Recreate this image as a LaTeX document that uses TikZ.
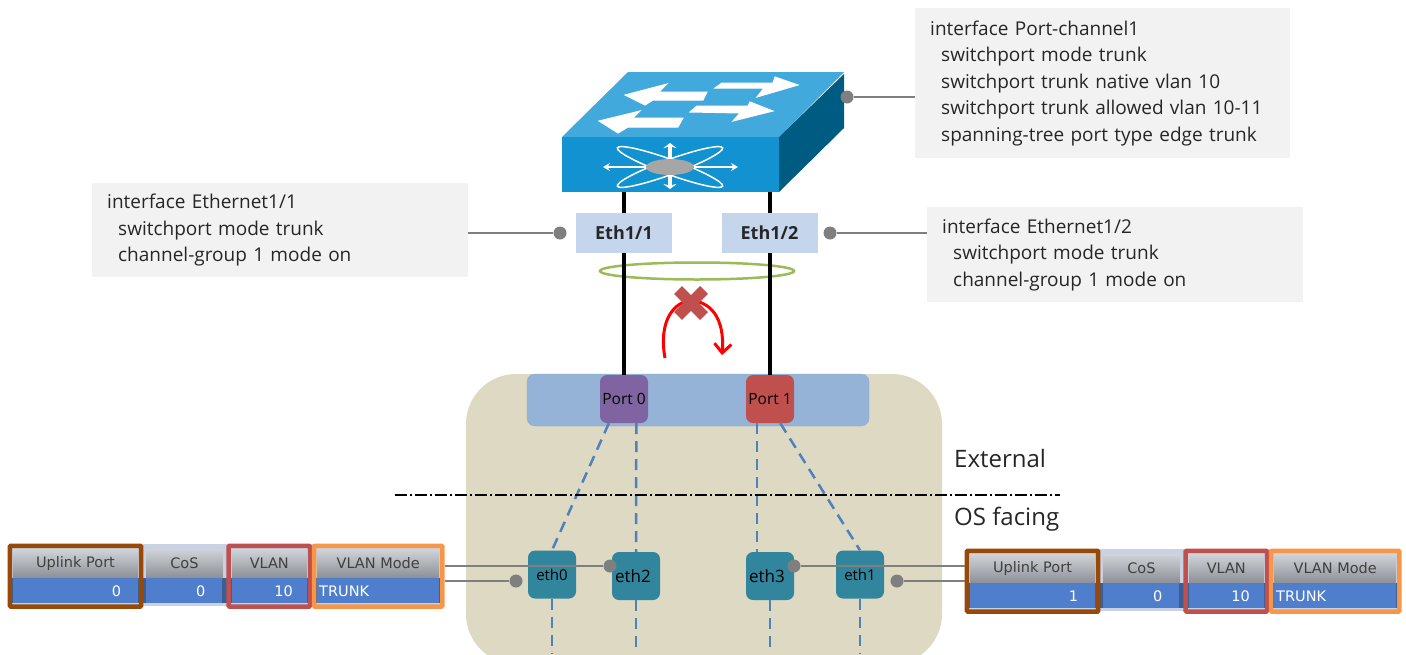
\documentclass[tikz,border=0pt]{standalone}
\usepackage{fontspec}
\setmainfont{Open Sans}
\newfontfamily\tabfont{DejaVu Sans}
\usepackage{xcolor}
\usetikzlibrary{positioning}
\usetikzlibrary{fit}
\usetikzlibrary{shapes}
\usetikzlibrary{arrows.meta}
\definecolor{switchtop}{HTML}{41A9DC}
\definecolor{switchfront}{HTML}{1292D0}
\definecolor{switchside}{HTML}{005B82}
\definecolor{panel}{HTML}{DDD9C3}
\definecolor{band}{HTML}{95B3D7}
\definecolor{bandline}{HTML}{84ABDC}
\definecolor{teal}{HTML}{31859C}
\definecolor{purpleport}{HTML}{8064A2}
\definecolor{ringgreen}{HTML}{9BBB59}
\definecolor{ethblue}{HTML}{C5D5EC}
\definecolor{vblue}{HTML}{4F81BD}
\definecolor{rowblue}{HTML}{4F7FCC}
\definecolor{rowline}{HTML}{3A5F95}
\definecolor{stripblue}{HTML}{C8D2E2}
\definecolor{headtop}{HTML}{D0D3D8}
\definecolor{headbot}{HTML}{8C9096}
\definecolor{vlanred}{HTML}{C0504D}
\definecolor{uplinkbrown}{HTML}{984807}
\definecolor{modeorange}{HTML}{F79646}
\definecolor{wire}{HTML}{7F7F7F}
\tikzstyle{cfg} = [rectangle,fill=black!5,anchor=north west,align=left,text=black!85,font=\fontsize{19}{26.5}\selectfont]
\tikzstyle{ethlabel} = [rectangle,fill=ethblue,minimum width=96pt,minimum height=40pt,inner sep=0pt,font=\fontsize{18}{20}\selectfont\bfseries,text=black!85]
\tikzstyle{dot} = [circle,fill=wire,minimum size=13pt,inner sep=0pt]
\tikzstyle{port} = [rectangle,rounded corners=7pt,minimum size=48pt,inner sep=0pt,font=\fontsize{15.5}{18}\selectfont]
\tikzstyle{eth} = [rectangle,rounded corners=7pt,fill=teal,minimum size=48pt,inner sep=0pt,font=\fontsize{15}{18}\selectfont]
\tikzstyle{head} = [rectangle,top color=headtop,bottom color=headbot,minimum height=29pt,inner sep=0pt,font=\tabfont\fontsize{14.5}{16}\selectfont,text=black!75]
\tikzstyle{val} = [rectangle,fill=rowblue,minimum height=25pt,inner sep=0pt,font=\tabfont\fontsize{14.5}{16}\selectfont,text=white]
\tikzstyle{frame} = [rectangle,draw,line width=4.5pt,inner sep=3pt,rounded corners=1pt]
\tikzset{link/.style={wire,line width=1.5pt}}
\tikzset{vport/.style={vblue,line width=2.5pt,dash pattern=on 11pt off 7pt}}
\tikzset{flow/.style={fill=white,draw=white,line width=1pt}}
\begin{document}
\begin{tikzpicture}[x=1pt,y=-1pt]
  \useasboundingbox (0,0) rectangle (1406,654);

  % server panel, cut off at the bottom
  \begin{scope}
    \clip (0,0) rectangle (1406,654);
    \node [rectangle,fill=panel,rounded corners=50pt,minimum width=476pt,minimum height=290pt,inner sep=0pt] (panel) at (704,519) {};
  \end{scope}
  \node [rectangle,fill=band,draw=bandline,rounded corners=8pt,minimum width=342pt,minimum height=52pt,inner sep=0pt] (band) at (698,400) {};
  \node [port,fill=purpleport] (port0) at (624,399) {Port 0};
  \node [port,fill=vlanred] (port1) at (770,399) {Port 1};

  % switch
  \fill [switchtop] (562,137) -- (628,72) -- (844,72) -- (779,137) -- cycle;
  \fill [switchside] (779,137) -- (844,74) -- (844,128) -- (779,192) -- cycle;
  \node [rectangle,fill=switchfront,minimum width=217pt,minimum height=55pt,inner sep=0pt] (front) at (670.5,164.5) {};
  \path [flow] (625,95) -- (667,84) -- (659,92) -- (707,92) -- (703,100) -- (653,100) -- (645,105) -- cycle;
  \path [flow] (715,88) -- (722,83) -- (773,83) -- (775,77) -- (798,85) -- (757,97) -- (764,88) -- cycle;
  \path [flow] (599,121) -- (640,111) -- (633,118) -- (683,118) -- (678,127) -- (628,127) -- (618,133) -- cycle;
  \path [flow] (690,112) -- (697,106) -- (748,106) -- (750,102) -- (773,111) -- (733,121) -- (740,113) -- cycle;
  \node [ellipse,draw=white,line width=1.5pt,minimum width=112pt,minimum height=15pt,inner sep=0pt,rotate=20] (orbit1) at (670,167) {};
  \node [ellipse,draw=white,line width=1.5pt,minimum width=112pt,minimum height=15pt,inner sep=0pt,rotate=-20] (orbit2) at (670,167) {};
  \node [ellipse,fill=black!35,minimum width=48pt,minimum height=16pt,inner sep=0pt] (hub) at (670,167) {};
  \coordinate (hubl) at (603,167);
  \coordinate (hubr) at (738,167);
  \coordinate (hubu) at (670,143);
  \coordinate (hubd) at (670,189);
  \draw [-{Stealth[length=7pt,width=8pt]},white,line width=1.2pt] (hub) -- (hubl);
  \draw [-{Stealth[length=7pt,width=8pt]},white,line width=1.2pt] (hub) -- (hubr);
  \draw [-{Stealth[length=5pt,width=13pt]},white,line width=4pt] (hub) -- (hubu);
  \draw [-{Stealth[length=5pt,width=13pt]},white,line width=4pt] (hub) -- (hubd);

  % bundle
  \node [ellipse,draw=ringgreen,line width=2.5pt,minimum width=194pt,minimum height=17pt,inner sep=0pt] (ring) at (697,271) {};
  \draw [black,line width=4pt] (port0.north |- front.south) -- (port0.north);
  \draw [black,line width=4pt] (port1.north |- front.south) -- (port1.north);
  \node [ethlabel] (eth11) at (624,233) {Eth1/1};
  \node [ethlabel] (eth12) at (769.5,233) {Eth1/2};

  % failover arrow
  \coordinate (arcfrom) at (665,358);
  \coordinate (arcto) at (722,355);
  \draw [-{Straight Barb[length=9pt,width=17pt]},red,line width=3pt] (arcfrom) .. controls (658,320) and (675,301) .. (691,301) .. controls (710,301) and (725,318) .. (arcto);
  \node [cross out,draw=vlanred,line width=11pt,minimum size=15pt,inner sep=0pt] (blocked) at (691,303) {};

  % vnics
  \node [eth] (eth0) at (552,574.5) {eth0};
  \node [eth,font=\fontsize{17}{20}\selectfont,text depth=0pt] (eth2) at (636,576) {\hspace*{-6pt}eth2};
  \node [eth,font=\fontsize{17}{20}\selectfont,text depth=0pt] (eth3) at (770,576) {\hspace*{-6pt}eth3};
  \node [eth] (eth1) at (860,574.5) {eth1};
  \draw [vport] (port0.-122) -- (eth0.north);
  \draw [vport] (port0.-63) -- (eth2.north);
  \draw [vport] (port1.-118) -- (eth3.118);
  \draw [vport] (port1.-67) -- (eth1.north);
  \coordinate (down0) at (552,654);
  \coordinate (down2) at (636,654);
  \coordinate (down3) at (770,654);
  \coordinate (down1) at (860,654);
  \draw [vport] (eth0.south) -- (down0);
  \draw [vport] (eth2.south) -- (down2);
  \draw [vport] (eth3.south) -- (down3);
  \draw [vport] (eth1.south) -- (down1);

  % external / OS facing split
  \coordinate (splitl) at (395,495);
  \coordinate (splitr) at (1060,495);
  \draw [black,line width=1.2pt,dash pattern=on 12pt off 3pt on 2pt off 3pt] (splitl) -- (splitr);
  \node [anchor=west,inner sep=0pt,font=\fontsize{24}{28}\selectfont,text=black!85] (external) at (954,458) {External};
  \node [anchor=west,inner sep=0pt,font=\fontsize{24}{28}\selectfont,text=black!85] (osfacing) at (954,519) {OS facing};

  % config boxes
  \node [cfg,minimum width=375pt,minimum height=150pt,text width=345pt,inner xsep=15pt,inner ysep=10pt] (cfgsw) at (915,8) {interface Port-channel1\\
    \hspace*{11pt}switchport mode trunk\\
    \hspace*{11pt}switchport trunk native vlan 10\\
    \hspace*{11pt}switchport trunk allowed vlan 10-11\\
    \hspace*{11pt}spanning-tree port type edge trunk};
  \node [cfg,minimum width=376pt,minimum height=94pt,text width=346pt,inner xsep=15pt,inner ysep=8pt] (cfg11) at (92,183) {interface Ethernet1/1\\
    \hspace*{11pt}switchport mode trunk\\
    \hspace*{11pt}channel-group 1 mode on};
  \node [cfg,minimum width=376pt,minimum height=95pt,text width=346pt,inner xsep=15pt,inner ysep=8pt] (cfg12) at (927,207) {interface Ethernet1/2\\
    \hspace*{11pt}switchport mode trunk\\
    \hspace*{11pt}channel-group 1 mode on};
  \node [dot] (dotsw) at (847,97) {};
  \node [dot] (dot11) at (560,233) {};
  \node [dot] (dot12) at (830,233) {};
  \draw [link] (dotsw) -- (dotsw -| cfgsw.west);
  \draw [link] (dot11) -- (dot11 -| cfg11.east);
  \draw [link] (dot12) -- (dot12 -| cfg12.west);

  % left table
  \node [rectangle,fill=stripblue,minimum width=431pt,minimum height=62pt,inner sep=0pt] (strip0) at (225.5,575) {};
  \node [rectangle,fill=rowline,minimum width=431pt,minimum height=25pt,inner sep=0pt] (row0) at (225.5,590.5) {};
  \node [head,minimum width=125pt] (up0) at (75.5,563.5) {Uplink Port};
  \node [head,minimum width=76pt,right=8pt of up0] (cos0) {CoS};
  \node [head,minimum width=75pt,right=9pt of cos0] (vl0) {VLAN};
  \node [head,minimum width=122pt,right=10pt of vl0] (md0) {VLAN Mode};
  \node [val,minimum width=125pt,text width=91pt,align=right,below=0pt of up0] (upv0) {0};
  \node [val,minimum width=76pt,text width=42pt,align=right,below=0pt of cos0] (cosv0) {0};
  \node [val,minimum width=75pt,text width=47pt,align=right,below=0pt of vl0] (vlv0) {10};
  \node [val,minimum width=122pt,text width=118pt,align=left,below=0pt of md0] (mdv0) {TRUNK};
  \node [frame,draw=uplinkbrown,fit=(up0) (upv0)] (fup0) {};
  \node [frame,draw=vlanred,fit=(vl0) (vlv0)] (fvl0) {};
  \node [frame,draw=modeorange,fit=(md0) (mdv0)] (fmd0) {};

  % right table
  \node [rectangle,fill=stripblue,minimum width=431pt,minimum height=62pt,inner sep=0pt] (strip1) at (1182.5,580) {};
  \node [rectangle,fill=rowline,minimum width=431pt,minimum height=25pt,inner sep=0pt] (row1) at (1182.5,595.5) {};
  \node [head,minimum width=125pt] (up1) at (1032.5,568.5) {Uplink Port};
  \node [head,minimum width=76pt,right=8pt of up1] (cos1) {CoS};
  \node [head,minimum width=75pt,right=9pt of cos1] (vl1) {VLAN};
  \node [head,minimum width=122pt,right=10pt of vl1] (md1) {VLAN Mode};
  \node [val,minimum width=125pt,text width=91pt,align=right,below=0pt of up1] (upv1) {1};
  \node [val,minimum width=76pt,text width=42pt,align=right,below=0pt of cos1] (cosv1) {0};
  \node [val,minimum width=75pt,text width=47pt,align=right,below=0pt of vl1] (vlv1) {10};
  \node [val,minimum width=122pt,text width=118pt,align=left,below=0pt of md1] (mdv1) {TRUNK};
  \node [frame,draw=uplinkbrown,fit=(up1) (upv1)] (fup1) {};
  \node [frame,draw=vlanred,fit=(vl1) (vlv1)] (fvl1) {};
  \node [frame,draw=modeorange,fit=(md1) (mdv1)] (fmd1) {};

  % table to vnic
  \node [dot] (dot2) at (610,566) {};
  \node [dot] (dot0) at (516,581) {};
  \node [dot] (dot3) at (794,566) {};
  \node [dot] (dot1) at (897,581) {};
  \draw [link] (dot2) -- (dot2 -| fmd0.east);
  \draw [link] (dot0) -- (dot0 -| fmd0.east);
  \draw [link] (dot3) -- (dot3 -| fup1.west);
  \draw [link] (dot1) -- (dot1 -| fup1.west);
\end{tikzpicture}
\end{document}
